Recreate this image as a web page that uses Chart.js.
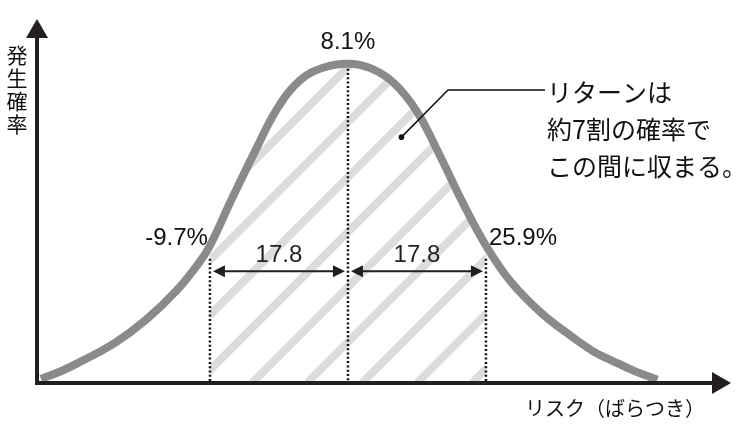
<!DOCTYPE html>
<html>
<head>
<meta charset="utf-8">
<script src="https://cdn.jsdelivr.net/npm/chart.js@4.4.1/dist/chart.umd.min.js"></script>
<style>
  html, body { margin: 0; padding: 0; background: #fff; }
  #wrap { width: 750px; height: 433px; }
</style>
</head>
<body>
<div id="wrap"><canvas id="riskChart" width="750" height="433"></canvas></div>
<script>
// data (return in %, relative probability, peak = 100)
const returns = [-31.5, -29, -27, -22, -18, -14, -11, -9.7, -7, -4, -1, 2, 5, 8.1, 11, 14, 17, 20, 23, 25.9, 29, 33, 37, 40, 42, 45, 48];
const probability = [1.3, 3.6, 5.9, 12.5, 19.7, 29, 38, 43, 57, 72, 86, 95, 98.8, 100, 98.6, 94, 85, 71, 56, 43, 32, 22, 14.5, 9.5, 7.2, 3.8, 1];

const markReturns = [-9.7, 8.1, 25.9];
const markLabels = ["-9.7%", "8.1%", "25.9%"];
const spanLabels = ["17.8", "17.8"];
const spanLevel = 35;

const noteLines = ["リターンは", "約7割の確率で", "この間に収まる。"];
const yTitle = ["発", "生", "確", "率"];
const xTitle = "リスク（ばらつき）";

const LATIN = "'Liberation Sans', Arial, sans-serif";
const CJK = "'Noto Sans CJK JP', sans-serif";
const INK = "#231f20";

function arrowHead(ctx, x, y, dir, len, half) {
  // dir: "left" | "right" | "up"
  ctx.beginPath();
  if (dir === "right") {
    ctx.moveTo(x, y);
    ctx.lineTo(x - len, y - half);
    ctx.lineTo(x - len, y + half);
  } else if (dir === "left") {
    ctx.moveTo(x, y);
    ctx.lineTo(x + len, y - half);
    ctx.lineTo(x + len, y + half);
  } else {
    ctx.moveTo(x, y);
    ctx.lineTo(x - half, y + len);
    ctx.lineTo(x + half, y + len);
  }
  ctx.closePath();
  ctx.fill();
}

const hatchPlugin = {
  id: "hatch",
  beforeDatasetsDraw(chart) {
    const { ctx, scales: { x, y } } = chart;
    const meta = chart.getDatasetMeta(0);
    const pts = meta.data;
    const left = x.getPixelForValue(markReturns[0]);
    const right = x.getPixelForValue(markReturns[2]);
    const base = y.getPixelForValue(0);

    ctx.save();
    ctx.beginPath();
    ctx.rect(left, 0, right - left, base);
    ctx.clip();
    ctx.beginPath();
    meta.dataset.path(ctx);
    ctx.lineTo(pts[pts.length - 1].x, base);
    ctx.lineTo(pts[0].x, base);
    ctx.closePath();
    ctx.clip();

    ctx.strokeStyle = "#dcdcdc";
    ctx.lineWidth = 8;
    for (let x0 = 252 - 55 * 6; x0 < 760; x0 += 55) {
      ctx.beginPath();
      ctx.moveTo(x0, base);
      ctx.lineTo(x0 + 400, base - 400);
      ctx.stroke();
    }
    ctx.restore();
  }
};

const annotatePlugin = {
  id: "annotate",
  afterDatasetsDraw(chart) {
    const { ctx, chartArea, scales: { x, y } } = chart;
    const base = y.getPixelForValue(0);
    const axisX = chartArea.left;

    ctx.save();

    // dotted guides
    ctx.strokeStyle = "#111";
    ctx.lineWidth = 2.5;
    ctx.setLineDash([2, 2.3]);
    markReturns.forEach((r, i) => {
      const idx = returns.indexOf(r);
      const px = x.getPixelForValue(r);
      const top = y.getPixelForValue(probability[idx]) + (i === 1 ? 5 : 13);
      ctx.beginPath();
      ctx.moveTo(px, top);
      ctx.lineTo(px, base);
      ctx.stroke();
    });
    ctx.setLineDash([]);

    // span arrows
    const ay = y.getPixelForValue(spanLevel);
    ctx.strokeStyle = INK;
    ctx.fillStyle = INK;
    ctx.lineWidth = 2;
    for (let i = 0; i < 2; i++) {
      const a = x.getPixelForValue(markReturns[i]) + 3;
      const b = x.getPixelForValue(markReturns[i + 1]) - 3;
      ctx.beginPath();
      ctx.moveTo(a + 6, ay);
      ctx.lineTo(b - 6, ay);
      ctx.stroke();
      arrowHead(ctx, a, ay, "left", 12, 6);
      arrowHead(ctx, b, ay, "right", 12, 6);

      ctx.font = "24px " + LATIN;
      ctx.textAlign = "center";
      ctx.textBaseline = "middle";
      ctx.fillText(spanLabels[i], (a + b) / 2, ay - 16);
    }

    // axes
    ctx.fillStyle = INK;
    ctx.fillRect(axisX - 2, 36, 4, base - 34);
    arrowHead(ctx, axisX, chartArea.top, "up", 19, 11);
    ctx.fillRect(axisX - 2, base - 2, chartArea.right - axisX - 14, 4);
    arrowHead(ctx, chartArea.right, base, "right", 19, 11);

    // percent labels
    ctx.fillStyle = "#111";
    ctx.font = "24px " + LATIN;
    ctx.textBaseline = "middle";
    ctx.textAlign = "right";
    ctx.fillText(markLabels[0], x.getPixelForValue(markReturns[0]) - 2, 238);
    ctx.textAlign = "center";
    ctx.fillText(markLabels[1], x.getPixelForValue(markReturns[1]), 42);
    ctx.textAlign = "left";
    ctx.fillText(markLabels[2], x.getPixelForValue(markReturns[2]) + 3, 238);

    // leader + note
    const dx = x.getPixelForValue(15);
    const dy = y.getPixelForValue(77);
    ctx.beginPath();
    ctx.arc(dx, dy, 2.8, 0, Math.PI * 2);
    ctx.fill();
    ctx.strokeStyle = "#111";
    ctx.lineWidth = 1.5;
    ctx.beginPath();
    ctx.moveTo(dx, dy);
    ctx.lineTo(448, 90);
    ctx.lineTo(545, 90);
    ctx.stroke();

    ctx.font = "25px " + CJK;
    ctx.textAlign = "left";
    noteLines.forEach((t, i) => ctx.fillText(t, 547, 92 + i * 37));

    // axis titles
    ctx.font = "21px " + CJK;
    ctx.textAlign = "center";
    yTitle.forEach((c, i) => ctx.fillText(c, 17, 55 + i * 23));
    ctx.font = "20px " + CJK;
    ctx.textAlign = "right";
    ctx.fillText(xTitle, 705, 408);

    ctx.restore();
  }
};

new Chart(document.getElementById("riskChart"), {
  type: "line",
  data: {
    datasets: [{
      data: returns.map((r, i) => ({ x: r, y: probability[i] })),
      borderColor: "#8a8a8a",
      borderWidth: 8,
      pointRadius: 0,
      fill: false,
      tension: 0.4
    }]
  },
  options: {
    responsive: false,
    devicePixelRatio: 1,
    animation: false,
    layout: { padding: { left: 37, right: 19, top: 19, bottom: 50 } },
    plugins: { legend: { display: false }, tooltip: { enabled: false } },
    scales: {
      x: { type: "linear", min: -32, max: 57.5, display: false },
      y: { min: 0, max: 114, display: false }
    }
  },
  plugins: [hatchPlugin, annotatePlugin]
});
</script>
</body>
</html>
